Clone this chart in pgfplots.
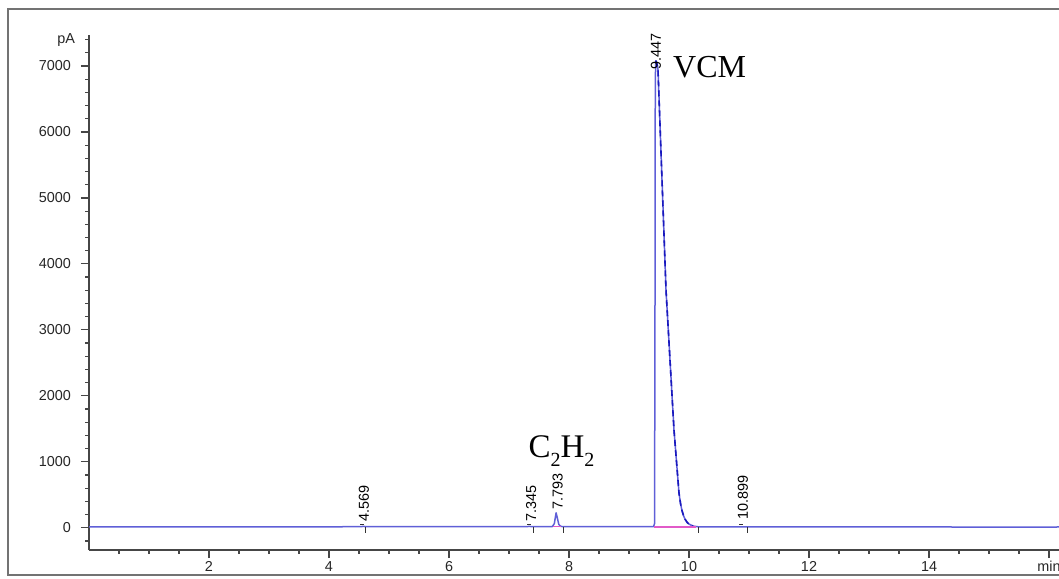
\documentclass[border=0pt]{standalone}
\usepackage{fontspec}
\setmainfont{Liberation Sans}
\newfontfamily\timesfont{Liberation Serif}
\usepackage{pgfplots}
\pgfplotsset{compat=1.18}
\definecolor{trace}{RGB}{95,95,215}
\definecolor{peakcol}{RGB}{25,25,190}
\definecolor{basel}{RGB}{225,90,200}
\definecolor{framecol}{RGB}{115,115,115}
\definecolor{axcol}{RGB}{70,70,70}

\begin{document}
\begin{tikzpicture}
\useasboundingbox (0pt,0pt) rectangle (529.5pt,289pt);
% outer frame (right side runs off the picture)
\draw[framecol, line width=1pt] (529.5pt,284.5pt)--(4pt,284.5pt)--(4pt,1.5pt)--(529.5pt,1.5pt);
\begin{axis}[
    at={(44.5pt,14pt)}, anchor=south west,
    scale only axis, width=485pt, height=257.5pt,
    xmin=0, xmax=16.1667, ymin=-338, ymax=7470,
    axis x line*=bottom, axis y line*=left,
    axis line style={-, axcol, line width=0.75pt},
    tick align=outside,
    major tick length=4pt, minor tick length=2pt,
    tick style={axcol, line width=0.6pt},
    xtick={2,4,...,14}, minor xtick={0.5,1,...,16},
    extra x ticks={16}, extra x tick labels={min},
    ytick={0,1000,...,7000}, minor ytick={-200,0,...,7400},
    extra y ticks={7400}, extra y tick labels={pA},
    extra y tick style={major tick length=2pt},
    ticklabel style={font=\fontsize{7.2}{8}\selectfont, text=black!85},
    x tick label style={yshift=1.8pt},
    y tick label style={xshift=-1.5pt},
    /pgf/number format/assume math mode=true,
    /pgf/number format/1000 sep={},
    clip=false,
]
% chromatogram trace
\addplot[trace, line width=0.75pt, line join=round] coordinates {
(0,12)(4.2,12)(4.25,17)(4.55,17)(4.57,22)(4.6,17)(7.3,17)(7.345,20)(7.37,17)
(7.72,17)(7.755,60)(7.785,225)(7.805,150)(7.83,50)(7.86,20)(7.9,17)
(9.41,17)(9.425,60)(9.432,2500)(9.438,6800)(9.447,7080)(9.465,7040)(9.483,6950)
(9.617,3600)(9.75,1480)(9.833,527)(9.86,360)(9.883,260)(9.91,180)(9.933,130)
(9.97,80)(10.0,55)(10.067,25)(10.15,14)(14.35,14)(14.4,8)(16.1,8)(16.17,14)
};
% darker overlay on the tail of the main peak
\addplot[peakcol, line width=0.8pt, densely dashed, line join=round] coordinates {
(9.447,7080)(9.465,7040)(9.483,6950)(9.617,3600)(9.75,1480)(9.833,527)(9.86,360)
(9.883,260)(9.91,180)(9.933,130)(9.97,80)(10.0,55)(10.067,25)
};
% integration baselines
\addplot[basel, line width=0.6pt] coordinates {(9.42,12)(10.12,12)};
\addplot[basel, line width=0.6pt] coordinates {(7.73,14)(7.87,14)};
% peak start/end markers
\pgfplotsinvokeforeach{4.6,7.4,7.9,10.15,10.98}{
  \addplot[black!80, line width=0.5pt] coordinates {(#1,12)(#1,-75)};
}
\pgfplotsinvokeforeach{4.52,7.30,10.84}{
  \addplot[black!80, line width=0.5pt] coordinates {(#1,50)(#1+0.06,50)};
}
% retention time labels
\tikzset{rt/.style={rotate=90, anchor=west, inner sep=0pt, font=\fontsize{7.2}{8}\selectfont}}
\node[rt] at (axis cs:4.58,90) {4.569};
\node[rt] at (axis cs:7.37,90) {7.345};
\node[rt] at (axis cs:7.81,270) {7.793};
\node[rt] at (axis cs:9.45,6940) {9.447};
\node[rt] at (axis cs:10.9,117) {10.899};
% compound names
\node[anchor=base west, inner sep=0pt, font=\timesfont\fontsize{16}{18}\selectfont]
  at (axis cs:9.73,6833) {VCM};
\node[anchor=base west, inner sep=0pt, font=\timesfont\fontsize{16.5}{18}\selectfont]
  at (axis cs:7.32,1057) {C\raisebox{-4.5pt}{\fontsize{10}{12}\selectfont 2}H\raisebox{-4.5pt}{\fontsize{10}{12}\selectfont 2}};
\end{axis}
\end{tikzpicture}
\end{document}
